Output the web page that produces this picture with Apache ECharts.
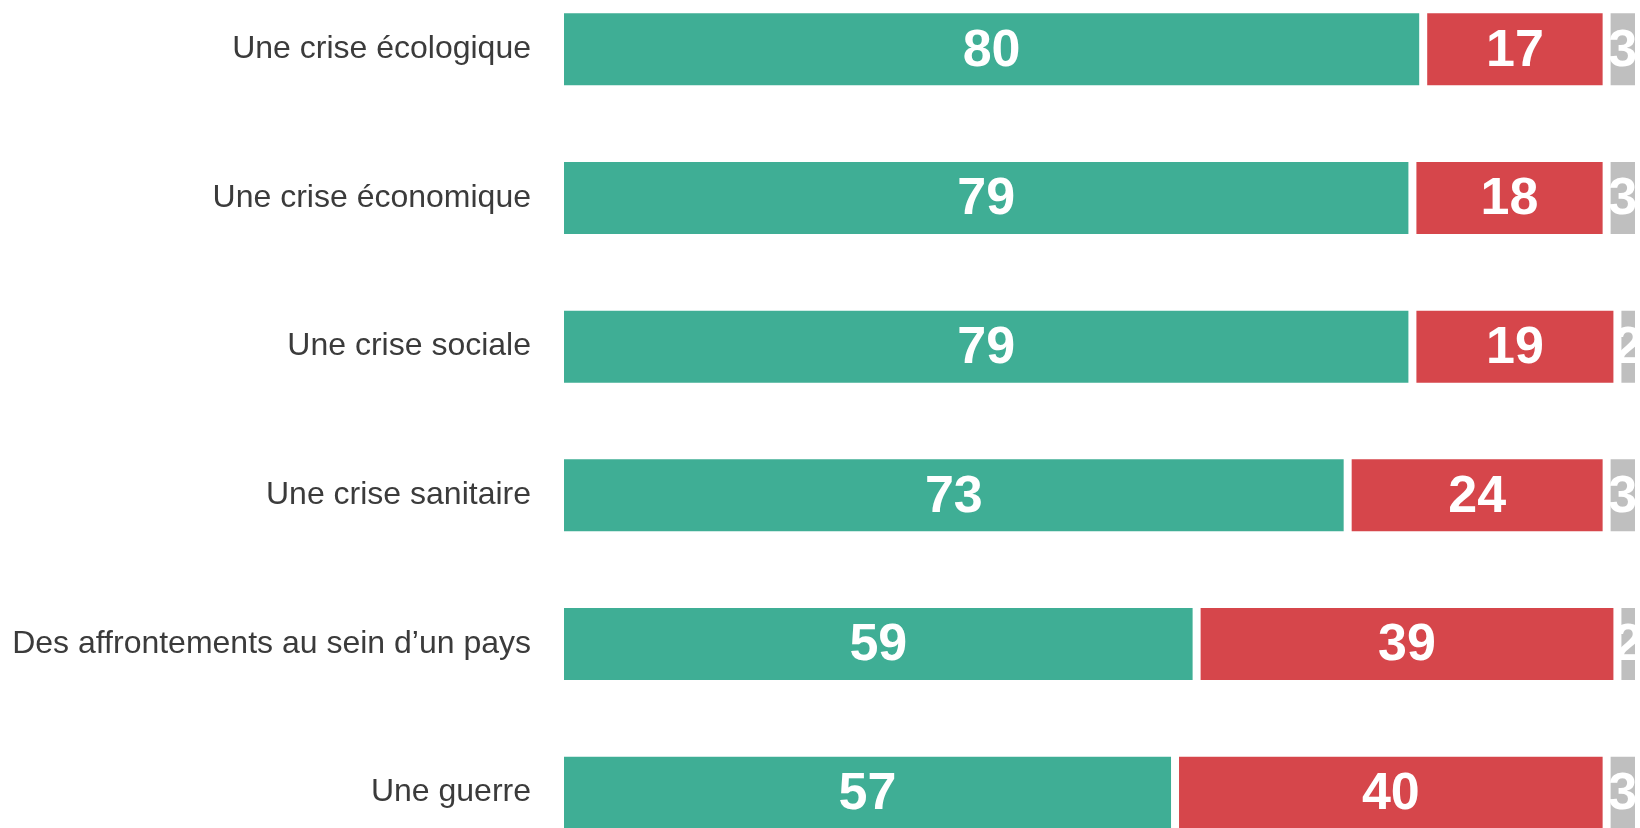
<!DOCTYPE html>
<html>
<head>
<meta charset="utf-8">
<script src="https://cdn.jsdelivr.net/npm/echarts@6/dist/echarts.min.js"></script>
<style>
html,body{margin:0;padding:0;background:#fff;overflow:hidden;}
#chart{position:absolute;left:0;top:-25px;width:1640px;height:892px;}
</style>
</head>
<body>
<div id="chart"></div>
<script>
// catégories (de haut en bas)
var categories = ['Une crise écologique', 'Une crise économique', 'Une crise sociale', 'Une crise sanitaire', 'Des affrontements au sein d\u2019un pays', 'Une guerre'];
var greenValues = [80, 79, 79, 73, 59, 57];
var redValues = [17, 18, 19, 24, 39, 40];
var greyValues = [3, 3, 2, 3, 2, 3];

var colors = ['#3fae95', '#d6464b', '#bfbfbf'];

var chart = echarts.init(document.getElementById('chart'));

function makeSeries(name, data, color){
	return {
		name: name,
		type: 'bar',
		stack: 'total',
		data: data,
		barWidth: 80,
		itemStyle: {
			color: color,
			borderColor: '#fff',
			borderWidth: 4
		},
		label: {
			show: true,
			position: 'inside',
			offset: [0, 2],
			color: '#fff',
			fontFamily: '"Liberation Sans Narrow", "Arial Narrow", "Liberation Sans", sans-serif',
			fontWeight: 'bold',
			fontSize: 52
		},
		silent: true
	};
}

var option = {
	animation: false,
	backgroundColor: '#fff',
	grid: {
		left: 560,
		right: 1,
		top: 0,
		bottom: 0,
		containLabel: false,
		outerBoundsMode: 'none'
	},
	xAxis: {
		type: 'value',
		min: 0,
		max: 100,
		show: false
	},
	yAxis: {
		type: 'category',
		inverse: true,
		data: categories,
		axisLine: {show: false},
		axisTick: {show: false},
		splitLine: {show: false},
		axisLabel: {
			margin: 29,
			color: '#3b3b3b',
			fontFamily: '"Liberation Sans", Arial, sans-serif',
			fontSize: 32
		}
	},
	series: [
		makeSeries('vert', greenValues, colors[0]),
		makeSeries('rouge', redValues, colors[1]),
		makeSeries('gris', greyValues, colors[2])
	]
};
chart.setOption(option);
</script>
</body>
</html>
